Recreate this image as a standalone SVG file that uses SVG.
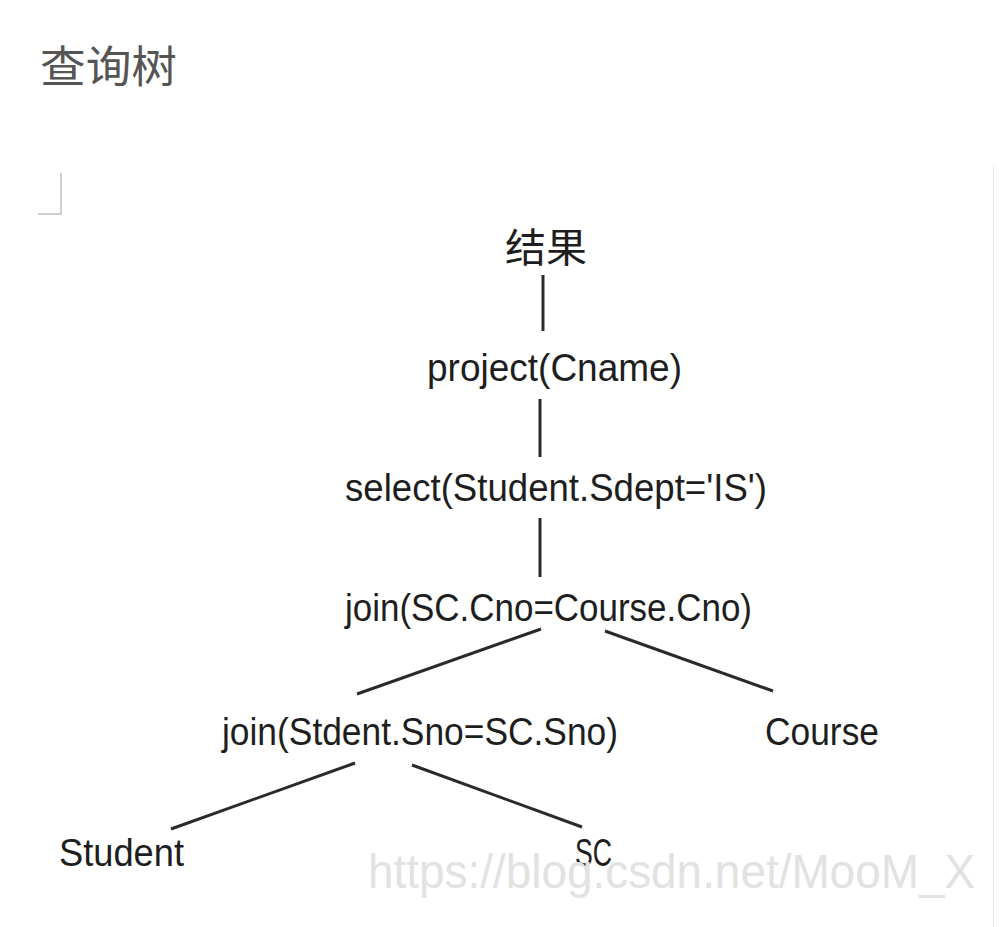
<svg xmlns="http://www.w3.org/2000/svg" width="1000" height="927" viewBox="0 0 1000 927">
<style>
.t{font-family:"Liberation Sans","Noto Sans CJK SC",sans-serif;font-size:38px;fill:#1e1e1e}
.cjk{font-family:"Noto Sans CJK SC",sans-serif;fill:#1e1e1e}
.e{stroke:#2a2a2a;stroke-width:3;fill:none}
</style>
<rect width="1000" height="927" fill="#ffffff"/>
<text x="40" y="83" class="cjk" style="font-size:44px;fill:#555555" textLength="137" lengthAdjust="spacingAndGlyphs">查询树</text>
<path d="M61 173V214H38" stroke="#cfcfcf" stroke-width="2" fill="none"/>
<line x1="993.5" y1="165" x2="993.5" y2="927" stroke="#ececec" stroke-width="1"/>
<g id="connectors">
<line class="e" x1="543" y1="275" x2="543" y2="331"/>
<line class="e" x1="540" y1="399" x2="540" y2="457"/>
<line class="e" x1="540" y1="518" x2="540" y2="577"/>
<line class="e" x1="541" y1="629" x2="357" y2="694"/>
<line class="e" x1="605" y1="631" x2="773" y2="691"/>
<line class="e" x1="355" y1="763" x2="171" y2="829"/>
<line class="e" x1="412" y1="765" x2="582" y2="827"/>
</g>
<g id="n-result"><text x="505" y="262" class="cjk" style="font-size:40px" textLength="82" lengthAdjust="spacingAndGlyphs">结果</text></g>
<g id="n-project"><text x="427" y="381" class="t" textLength="255" lengthAdjust="spacingAndGlyphs">project(Cname)</text></g>
<g id="n-select"><text x="345" y="501" class="t" textLength="422" lengthAdjust="spacingAndGlyphs">select(Student.Sdept='IS')</text></g>
<g id="n-join1"><text x="345" y="621" class="t" textLength="407" lengthAdjust="spacingAndGlyphs">join(SC.Cno=Course.Cno)</text></g>
<g id="n-join2"><text x="222" y="745" class="t" textLength="396" lengthAdjust="spacingAndGlyphs">join(Stdent.Sno=SC.Sno)</text></g>
<g id="n-course"><text x="765" y="745" class="t" textLength="114" lengthAdjust="spacingAndGlyphs">Course</text></g>
<g id="n-student"><text x="59" y="866" class="t" textLength="125" lengthAdjust="spacingAndGlyphs">Student</text></g>
<g id="n-sc"><text x="575" y="866" class="t" textLength="37" lengthAdjust="spacingAndGlyphs">SC</text></g>
<text x="368" y="888" style="font-family:'Liberation Sans',sans-serif;font-size:48px;fill:#e2e2e2" textLength="607" lengthAdjust="spacingAndGlyphs">https://blog.csdn.net/MooM_X</text>
</svg>
